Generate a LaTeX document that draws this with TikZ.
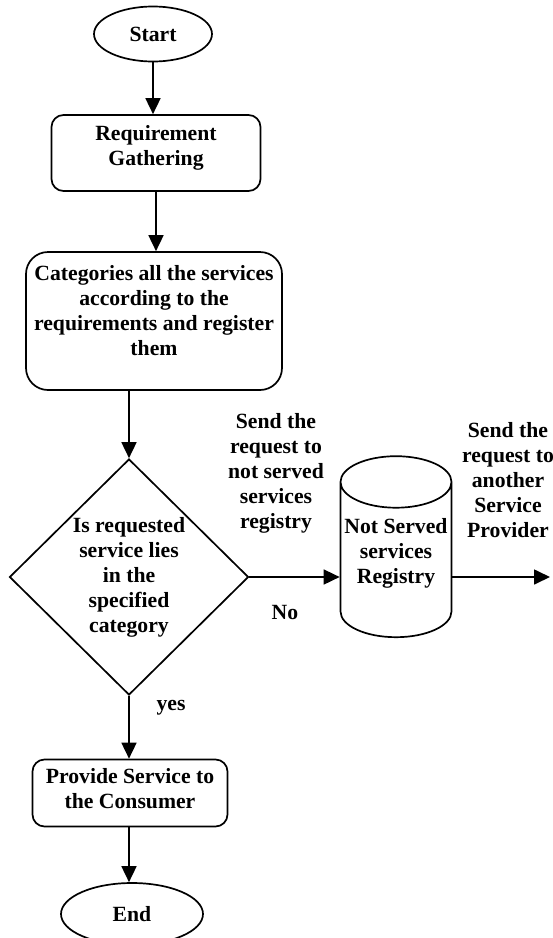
\documentclass[tikz,border=0pt]{standalone}
\usepackage{fontspec}
\setmainfont{Liberation Serif}
\usetikzlibrary{arrows.meta,shapes.geometric}

\begin{document}
\begin{tikzpicture}[x=1pt,y=-1pt,
  every node/.style={font=\bfseries\fontsize{21.7}{25}\selectfont,align=center},
  term/.style={ellipse,draw,line width=1.7pt,inner sep=0pt},
  proc/.style={rectangle,draw,line width=1.7pt,rounded corners=#1},
  proc/.default=12pt,
  flow/.style={line width=1.7pt,-{Triangle[length=16pt,width=15pt]}}]
\useasboundingbox (0,0) rectangle (553,938);
% main column
\node[term,minimum width=118pt,minimum height=55pt] (start) at (153,34) {Start};
\node[proc,minimum width=209pt,minimum height=76pt,text depth=15pt] (req) at (156,153) {Requirement\\Gathering};
\node[proc=22pt,minimum width=256pt,minimum height=138pt,text depth=22pt] (cat) at (154,321)
    {Categories all the services\\according to the\\requirements and register\\them};
\node[diamond,draw,line width=1.7pt,inner sep=0pt,minimum width=239pt,minimum height=236pt,
    label={center:Is requested\\service lies\\in the\\specified\\category}] (dec) at (129,577) {};
\node[proc,minimum width=195pt,minimum height=67pt,text depth=9pt] (prov) at (130,793) {Provide Service to\\the Consumer};
\node[term,minimum width=142pt,minimum height=62pt] (end) at (132,914) {End};
% side branch
\node[cylinder,shape border rotate=90,draw,line width=1.7pt,aspect=0.5,
    minimum width=111pt,minimum height=181pt,inner sep=0pt,text depth=18pt] (reg) at (396,560)
    {Not Served\\services\\Registry};
\coordinate (out) at (550,577);
% texts on the arrows
\node (sendreg) at (276,473) {Send the\\request to\\not served\\services\\registry};
\node (no) at (285,612) {No};
\node (sendout) at (508,480) {Send the\\request to\\another\\Service\\Provider};
\node (yes) at (171,708) {yes};
% arrows
\draw[flow] (start.south) -- (start.south |- req.north);
\draw[flow] (req.south) -- (req.south |- cat.north);
\draw[flow] (dec.north |- cat.south) -- (dec.north);
\draw[flow] (dec.south) -- (prov.north -| dec.south);
\draw[flow] (prov.south -| dec.south) -- (end.north -| dec.south);
\draw[flow] (dec.east) -- (dec.east -| reg.west);
\draw[flow] (dec.east -| reg.east) -- (out);
\end{tikzpicture}
\end{document}
